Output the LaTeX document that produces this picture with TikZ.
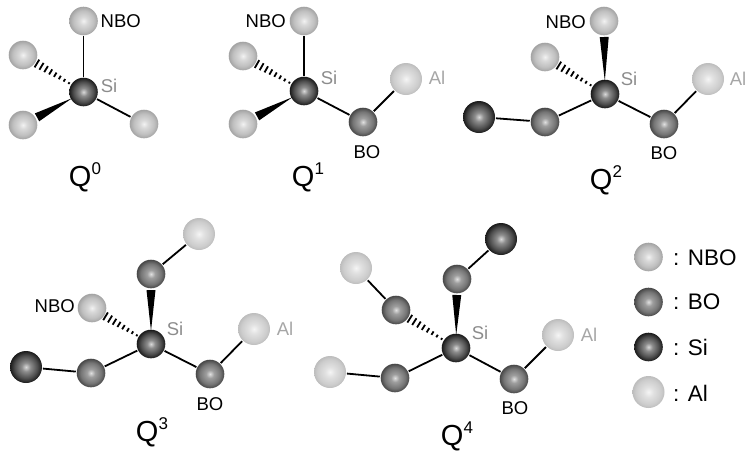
\documentclass[tikz,border=0pt]{standalone}
\usepackage{fontspec}
\setmainfont{Liberation Sans}
\usetikzlibrary{calc}
\pgfdeclareradialshading{nboball}{\pgfpoint{0bp}{0bp}}{color(0bp)=(white!95!black); color(7bp)=(white!85!black); color(18bp)=(white!75!black); color(25bp)=(white!64!black); color(50bp)=(white!64!black)}
\pgfdeclareradialshading{boball}{\pgfpoint{0bp}{0bp}}{color(0bp)=(white!88!black); color(7bp)=(white!62!black); color(18bp)=(white!46!black); color(25bp)=(white!28!black); color(50bp)=(white!28!black)}
\pgfdeclareradialshading{siball}{\pgfpoint{0bp}{0bp}}{color(0bp)=(white!85!black); color(7bp)=(white!55!black); color(18bp)=(white!30!black); color(25bp)=(white!10!black); color(50bp)=(white!10!black)}
\pgfdeclareradialshading{alball}{\pgfpoint{0bp}{0bp}}{color(0bp)=(white!96!black); color(8bp)=(white!88!black); color(20bp)=(white!80!black); color(25bp)=(white!74!black); color(50bp)=(white!74!black)}
\tikzset{
  ball/.style={circle,draw=none,inner sep=0pt,outer sep=1pt,minimum size=28.6pt},
  nbo/.style={ball,shading=nboball},
  bo/.style={ball,shading=boball},
  si/.style={ball,shading=siball},
  sibig/.style={ball,shading=siball,minimum size=32pt},
  al/.style={ball,shading=alball,minimum size=32pt},
  bond/.style={draw=black,line width=1.8pt},
  lab/.style={font=\fontsize{18.5}{20}\selectfont,inner sep=0pt},
  graylab/.style={lab,text=black!45},
  alab/.style={lab,text=black!35},
  title/.style={font=\fontsize{29}{30}\selectfont,inner sep=0pt},
  legendlab/.style={font=\fontsize{22.5}{24}\selectfont,inner sep=0pt,anchor=west}
}
\newcommand{\supdigit}[1]{\raisebox{12pt}{\fontsize{17}{18}\selectfont #1}}
\newcommand{\wedgebond}[2]{%
  \fill[black] ($(#1)!13pt!(#2)$)
    -- ($($(#2)!16pt!(#1)$)!4.5pt!90:(#1)$)
    -- ($($(#2)!16pt!(#1)$)!4.5pt!-90:(#1)$) -- cycle;}
\newcommand{\hashbond}[2]{%
  \foreach \i in {0,...,7}{%
    \pgfmathsetmacro\hf{0.24+\i*0.53/7}%
    \pgfmathsetmacro\hw{1+\i*0.5}%
    \draw[line width=1.8pt] ($($(#1)!\hf!(#2)$)!\hw pt!90:(#2)$) -- ($($(#1)!\hf!(#2)$)!\hw pt!-90:(#2)$);}}
\begin{document}
\begin{tikzpicture}[x=1pt,y=-1pt]
\useasboundingbox (0,0) rectangle (748,453);
% Q0
\node[si] (a0) at (83.5,92) {};
\node[nbo] (a1) at (83.5,21) {};
\node[nbo] (a2) at (23,55) {};
\node[nbo] (a3) at (23,125) {};
\node[nbo] (a4) at (144,124) {};
\draw[bond] (a0) -- (a1);
\draw[bond] (a0) -- (a4);
\hashbond{a0}{a2}
\wedgebond{a0}{a3}
\node[lab,anchor=west] (a5) at (100.5,21) {NBO};
\node[graylab] (a6) at (109,85.5) {Si};
\node[title] (a7) at (85,177) {Q\supdigit{0}};
% Q1
\node[si] (b0) at (304,91) {};
\node[nbo] (b1) at (304,21) {};
\node[nbo] (b2) at (243,56) {};
\node[nbo] (b3) at (243,124) {};
\node[bo] (b4) at (363,122) {};
\node[al] (b5) at (406,79) {};
\draw[bond] (b0) -- (b1);
\draw[bond] (b0) -- (b4);
\draw[bond] (b4) -- (b5);
\hashbond{b0}{b2}
\wedgebond{b0}{b3}
\node[lab,anchor=east] (b6) at (286,21) {NBO};
\node[graylab] (b7) at (329,78) {Si};
\node[lab] (b8) at (367,152) {BO};
\node[alab] (b9) at (437,78) {Al};
\node[title] (b10) at (308,177) {Q\supdigit{1}};
% Q2
\node[si] (c0) at (605,94) {};
\node[nbo] (c1) at (604,21) {};
\node[nbo] (c2) at (545,57) {};
\node[bo] (c3) at (545,122) {};
\node[sibig] (c4) at (479,117) {};
\node[bo] (c5) at (664,124) {};
\node[al] (c6) at (708,79) {};
\draw[bond] (c0) -- (c3);
\draw[bond] (c3) -- (c4);
\draw[bond] (c0) -- (c5);
\draw[bond] (c5) -- (c6);
\hashbond{c0}{c2}
\wedgebond{c0}{c1}
\node[lab,anchor=east] (c7) at (586,22) {NBO};
\node[graylab] (c8) at (629,79) {Si};
\node[lab] (c9) at (664,153) {BO};
\node[alab] (c10) at (738,79) {Al};
\node[title] (c11) at (606,180) {Q\supdigit{2}};
% Q3
\node[si] (d0) at (151,344) {};
\node[bo] (d1) at (151,274) {};
\node[al] (d2) at (199,234) {};
\node[nbo] (d3) at (92,308) {};
\node[bo] (d4) at (91,373) {};
\node[sibig] (d5) at (26,367) {};
\node[bo] (d6) at (210,374) {};
\node[al] (d7) at (254,329) {};
\draw[bond] (d1) -- (d2);
\draw[bond] (d0) -- (d4);
\draw[bond] (d4) -- (d5);
\draw[bond] (d0) -- (d6);
\draw[bond] (d6) -- (d7);
\hashbond{d0}{d3}
\wedgebond{d0}{d1}
\node[lab,anchor=east] (d8) at (75,306) {NBO};
\node[graylab] (d9) at (175,329) {Si};
\node[lab] (d10) at (210,404) {BO};
\node[alab] (d11) at (285,329) {Al};
\node[title] (d12) at (152,432) {Q\supdigit{3}};
% Q4
\node[si] (e0) at (456,348) {};
\node[bo] (e1) at (457,279) {};
\node[sibig] (e2) at (501,239) {};
\node[bo] (e3) at (396,310) {};
\node[al] (e4) at (356,268) {};
\node[bo] (e5) at (395,378) {};
\node[al] (e6) at (330,372) {};
\node[bo] (e7) at (514,379) {};
\node[al] (e8) at (558,335) {};
\draw[bond] (e1) -- (e2);
\draw[bond] (e3) -- (e4);
\draw[bond] (e0) -- (e5);
\draw[bond] (e5) -- (e6);
\draw[bond] (e0) -- (e7);
\draw[bond] (e7) -- (e8);
\hashbond{e0}{e3}
\wedgebond{e0}{e1}
\node[graylab] (e9) at (480,333) {Si};
\node[lab] (e10) at (515,408) {BO};
\node[alab] (e11) at (589,335) {Al};
\node[title] (e12) at (457,436) {Q\supdigit{4}};
% legend
\node[nbo] (f0) at (648.5,257) {};
\node[bo] (f1) at (648.5,302) {};
\node[si] (f2) at (648.5,347) {};
\node[al] (f3) at (648.5,392) {};
\node[legendlab] (f4) at (673,258) {: NBO};
\node[legendlab] (f5) at (673,302) {: BO};
\node[legendlab] (f6) at (673,347) {: Si};
\node[legendlab] (f7) at (673,393) {: Al};
\end{tikzpicture}
\end{document}
